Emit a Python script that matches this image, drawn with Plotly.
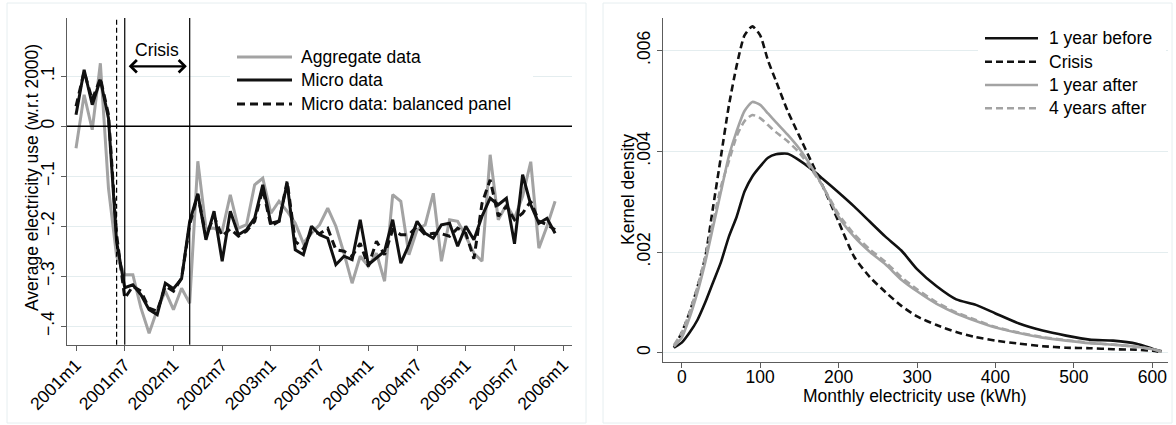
import plotly.graph_objects as go

W, H = 1176, 425
FONT = "Liberation Sans, Arial, Helvetica, sans-serif"
FS = 17.5

# ---------------- Left panel data ----------------
month_labels = [f"{2001 + k // 12}m{k % 12 + 1}" for k in range(60)]
tick_labels_left = ["2001m1", "2001m7", "2002m1", "2002m7", "2003m1", "2003m7",
                    "2004m1", "2004m7", "2005m1", "2005m7", "2006m1"]
tick_pos_left = [0, 6, 12, 18, 24, 30, 36, 42, 48, 54, 60]

aggregate = [-0.044, 0.063, -0.007, 0.126, -0.124, -0.26, -0.297, -0.297, -0.364, -0.414,
             -0.367, -0.33, -0.367, -0.324, -0.354, -0.07, -0.204, -0.204, -0.21, -0.137,
             -0.204, -0.197, -0.117, -0.104, -0.174, -0.15, -0.17, -0.194, -0.234, -0.214,
             -0.197, -0.164, -0.2, -0.254, -0.314, -0.26, -0.28, -0.254, -0.31, -0.137,
             -0.15, -0.257, -0.207, -0.197, -0.134, -0.27, -0.187, -0.19, -0.22, -0.254,
             -0.27, -0.057, -0.187, -0.157, -0.184, -0.14, -0.071, -0.244, -0.2, -0.15]
micro = [0.023, 0.113, 0.043, 0.093, 0.016, -0.231, -0.323, -0.317, -0.337, -0.367,
         -0.377, -0.314, -0.325, -0.305, -0.19, -0.135, -0.227, -0.17, -0.27, -0.17,
         -0.217, -0.207, -0.184, -0.117, -0.194, -0.19, -0.114, -0.247, -0.257, -0.2,
         -0.217, -0.224, -0.277, -0.26, -0.267, -0.187, -0.277, -0.264, -0.25, -0.187,
         -0.274, -0.237, -0.19, -0.214, -0.224, -0.197, -0.194, -0.24, -0.2, -0.227,
         -0.18, -0.144, -0.157, -0.144, -0.235, -0.097, -0.157, -0.194, -0.184, -0.214]
balanced = [0.04, 0.109, 0.053, 0.096, 0.023, -0.217, -0.344, -0.32, -0.33, -0.364,
            -0.37, -0.32, -0.33, -0.304, -0.197, -0.137, -0.22, -0.18, -0.22, -0.205,
            -0.22, -0.21, -0.19, -0.125, -0.2, -0.19, -0.11, -0.23, -0.245, -0.21,
            -0.215, -0.204, -0.247, -0.25, -0.26, -0.234, -0.28, -0.23, -0.257, -0.207,
            -0.217, -0.217, -0.2, -0.217, -0.214, -0.215, -0.22, -0.204, -0.214, -0.265,
            -0.154, -0.107, -0.18, -0.16, -0.187, -0.174, -0.15, -0.19, -0.197, -0.207]
left_names = ["Aggregate data", "Micro data", "Micro data: balanced panel"]
left_yticks = [0.1, 0, -0.1, -0.2, -0.3, -0.4]
left_yticktext = [".1", "0", "\u2212.1", "\u2212.2", "\u2212.3", "\u2212.4"]

# ---------------- Right panel data ----------------
kwh = [-10, 0, 10, 20, 30, 40, 50, 60, 70, 80, 90, 100, 110, 120, 135, 150, 165, 180,
       200, 220, 240, 260, 280, 300, 325, 350, 375, 400, 430, 460, 490, 520, 550, 580,
       600, 612]
dens_before = [0.0001, 0.0002, 0.0004, 0.00065, 0.001, 0.0014, 0.0018, 0.0023, 0.0027,
               0.0032, 0.0035, 0.0037, 0.00387, 0.00394, 0.00395, 0.00382, 0.00365, 0.00345,
               0.00318, 0.0029, 0.0026, 0.0023, 0.00203, 0.00166, 0.00132, 0.00106, 0.00095,
               0.00078, 0.00058, 0.00044, 0.00034, 0.00026, 0.00024, 0.00018, 0.00008, 0.00003]
dens_crisis = [0.0001, 0.0004, 0.0008, 0.0013, 0.0019, 0.0029, 0.0039, 0.0049, 0.0057,
               0.0063, 0.00648, 0.0063, 0.0058, 0.0054, 0.0048, 0.0043, 0.0038, 0.0033,
               0.0026, 0.0019, 0.0015, 0.0012, 0.00093, 0.00072, 0.00055, 0.00041, 0.00031,
               0.00024, 0.00018, 0.00013, 0.0001, 0.00009, 0.00007, 0.00006, 0.00004, 0.00001]
dens_after1 = [0.00012, 0.0003, 0.0007, 0.0012, 0.0018, 0.0025, 0.0032, 0.0039, 0.0044,
               0.0048, 0.00498, 0.00492, 0.00475, 0.00458, 0.00433, 0.00405, 0.0037, 0.0033,
               0.0027, 0.0023, 0.002, 0.00175, 0.00145, 0.00122, 0.00097, 0.00078, 0.00063,
               0.0005, 0.00039, 0.0003, 0.00024, 0.00019, 0.00016, 0.00012, 0.00007, 0.00002]
dens_after4 = [0.00015, 0.0004, 0.0008, 0.0013, 0.0019, 0.0026, 0.0033, 0.0038, 0.0043,
               0.0046, 0.00472, 0.00466, 0.00452, 0.00438, 0.0042, 0.00397, 0.00365, 0.0033,
               0.00275, 0.00235, 0.00205, 0.0018, 0.0015, 0.00126, 0.001, 0.0008, 0.00065,
               0.00051, 0.0004, 0.00031, 0.00025, 0.0002, 0.00016, 0.00012, 0.00007, 0.00002]
right_names = ["1 year before", "Crisis", "1 year after", "4 years after"]
right_yticks = [0, 0.002, 0.004, 0.006]
right_yticktext = ["0", ".002", ".004", ".006"]
right_xticks = [0, 100, 200, 300, 400, 500, 600]

BLACK = "#111111"
GRAY = "#a3a3a3"
GRID = "#e4edef"
AXIS = "#5c5c5c"


def px(x):
    return x / W


def py(y):
    return 1 - y / H


fig = go.Figure()
xm = list(range(len(month_labels)))

left_styles = [dict(color=GRAY, width=3),
               dict(color=BLACK, width=3),
               dict(color=BLACK, width=3, dash="8px,5px")]
for name, vals, st in zip(left_names, [aggregate, micro, balanced], left_styles):
    fig.add_trace(go.Scatter(x=xm, y=vals, name=name, mode="lines", line=st,
                             xaxis="x", yaxis="y", showlegend=False))

right_styles = [dict(color=BLACK, width=2.6),
                dict(color=BLACK, width=2.6, dash="7px,4px"),
                dict(color=GRAY, width=2.6),
                dict(color=GRAY, width=2.6, dash="7px,4px")]
right_series = [dens_before, dens_crisis, dens_after1, dens_after4]
for name, vals, st in zip(right_names, right_series, right_styles):
    fig.add_trace(go.Scatter(x=kwh, y=vals, name=name, mode="lines",
                             line=dict(shape="spline", smoothing=0.6, **st),
                             xaxis="x2", yaxis="y2", showlegend=False))

axfont = dict(family=FONT, size=FS, color="#000000")
common = dict(showline=True, linecolor=AXIS, linewidth=1.3, ticks="outside",
              ticklen=5, tickcolor=AXIS, tickwidth=1.3, tickfont=axfont,
              zeroline=False, mirror=False, automargin=False)

fig.update_layout(
    width=W, height=H, margin=dict(l=0, r=0, t=0, b=0, autoexpand=False),
    paper_bgcolor="white", plot_bgcolor="white", font=dict(family=FONT, size=FS),
    showlegend=False,
    xaxis=dict(domain=[px(67), px(572)], range=[-1.11, 61.08], tickvals=tick_pos_left,
               ticktext=tick_labels_left, tickangle=-45, showgrid=False,
               anchor="y", ticklabelstandoff=-3, **common),
    yaxis=dict(domain=[py(344.7), py(18)], range=[-0.437, 0.2166], tickvals=left_yticks,
               ticktext=left_yticktext, tickangle=-90, showgrid=True, gridcolor=GRID,
               gridwidth=1, anchor="x", **common),
    xaxis2=dict(domain=[px(662.7), px(1168)], range=[-24.3, 620], tickvals=right_xticks,
                showgrid=False, anchor="y2", ticklabelstandoff=-6, **common),
    yaxis2=dict(domain=[py(362.3), py(18.3)], range=[-0.00019, 0.00664],
                tickvals=right_yticks, ticktext=right_yticktext, tickangle=-90,
                showgrid=True, gridcolor=GRID, gridwidth=1, anchor="x2", **common),
)

shapes = []
# panel frames
shapes.append(dict(type="rect", xref="paper", yref="paper", x0=px(7), x1=px(586),
                   y0=py(423), y1=py(3), line=dict(color="#e6eef0", width=1), layer="below"))
shapes.append(dict(type="rect", xref="paper", yref="paper", x0=px(603), x1=px(1172),
                   y0=py(423), y1=py(3), line=dict(color="#e6eef0", width=1), layer="below"))
# zero line
shapes.append(dict(type="line", xref="x domain", yref="y", x0=0, x1=1, y0=0, y1=0,
                   line=dict(color="black", width=1.3)))
# crisis markers
i_pre = month_labels.index("2001m6")
i_start = month_labels.index("2001m7")
i_end = month_labels.index("2002m3")
shapes.append(dict(type="line", xref="x", yref="y domain", x0=i_pre, x1=i_pre, y0=0, y1=1,
                   line=dict(color="black", width=1.2, dash="5px,3px")))
for i in (i_start, i_end):
    shapes.append(dict(type="line", xref="x", yref="y domain", x0=i, x1=i, y0=0, y1=1,
                       line=dict(color="black", width=1.2)))

# legend backgrounds
shapes.append(dict(type="rect", xref="paper", yref="paper", x0=px(230), x1=px(533),
                   y0=py(116), y1=py(44), fillcolor="white", line=dict(width=0)))
shapes.append(dict(type="rect", xref="paper", yref="paper", x0=px(978), x1=px(1166),
                   y0=py(121), y1=py(26), fillcolor="white", line=dict(width=0)))

annotations = []
# left legend
for k, (name, st) in enumerate(zip(left_names, left_styles)):
    yy = [57, 80, 104][k]
    shapes.append(dict(type="line", xref="paper", yref="paper", x0=px(237), x1=px(292),
                       y0=py(yy), y1=py(yy), line=st))
    annotations.append(dict(xref="paper", yref="paper", x=px(299), y=py(yy), text=name,
                            showarrow=False, xanchor="left", yanchor="middle",
                            font=dict(family=FONT, size=FS, color="black")))
# right legend
for k, (name, st) in enumerate(zip(right_names, right_styles)):
    yy = [38.3, 61.7, 85, 108.3][k]
    shapes.append(dict(type="line", xref="paper", yref="paper", x0=px(985), x1=px(1038),
                       y0=py(yy), y1=py(yy), line=st))
    annotations.append(dict(xref="paper", yref="paper", x=px(1047), y=py(yy), text=name,
                            showarrow=False, xanchor="left", yanchor="middle",
                            font=dict(family=FONT, size=FS, color="black")))

# crisis arrow and label
annotations.append(dict(xref="x", yref="y", axref="x", ayref="y", x=i_end - 0.35, y=0.12,
                        ax=i_start + 0.3, ay=0.12, text="", showarrow=True,
                        arrowside="end+start", arrowhead=4, startarrowhead=4,
                        arrowsize=1.1, startarrowsize=1.1, arrowwidth=2.2,
                        arrowcolor="black"))
annotations.append(dict(xref="x", yref="y", x=(i_start + i_end) / 2, y=0.153, text="Crisis",
                        showarrow=False, xanchor="center", yanchor="middle",
                        font=dict(family=FONT, size=FS, color="black")))

# axis titles
title_font = dict(family=FONT, size=FS, color="black")
annotations.append(dict(xref="paper", yref="paper", x=px(32), y=py(178),
                        text="Average electricity use (w.r.t 2000)", textangle=-90,
                        xanchor="center", yanchor="middle",
                        showarrow=False, font=title_font))
annotations.append(dict(xref="paper", yref="paper", x=px(628), y=py(190),
                        text="Kernel density", textangle=-90,
                        xanchor="center", yanchor="middle",
                        showarrow=False, font=title_font))
annotations.append(dict(xref="paper", yref="paper", x=px(915), y=py(396),
                        text="Monthly electricity use (kWh)",
                        xanchor="center", yanchor="middle",
                        showarrow=False, font=title_font))

fig.update_layout(shapes=shapes, annotations=annotations)
fig.write_html("out.html", config={"displayModeBar": False},
               post_script="document.body.style.margin='0';document.body.style.overflow='hidden';")
